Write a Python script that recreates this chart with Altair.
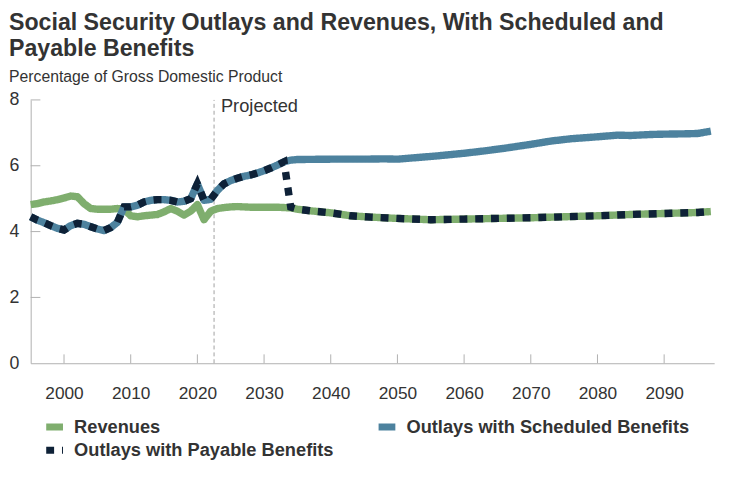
import altair as alt
import pandas as pd

# ---- data (percentage of GDP) ----
rev_years = [1995, 1996, 1997, 1998, 1999, 2000, 2001, 2002, 2003, 2004, 2005, 2006, 2007, 2008,
             2009, 2010, 2011, 2012, 2013, 2014, 2015, 2016, 2017, 2018, 2019, 2020, 2021, 2022,
             2023, 2024, 2025, 2026, 2027, 2028, 2029, 2030, 2031, 2032, 2033, 2034, 2035, 2037,
             2040, 2043, 2046, 2050, 2055, 2060, 2065, 2070, 2075, 2080, 2085, 2090, 2095, 2097]
rev_values = [4.82, 4.85, 4.90, 4.93, 4.97, 5.02, 5.08, 5.06, 4.85, 4.70, 4.68, 4.68, 4.68, 4.70,
              4.68, 4.48, 4.45, 4.48, 4.50, 4.52, 4.60, 4.70, 4.62, 4.50, 4.62, 4.82, 4.36, 4.62,
              4.70, 4.73, 4.75, 4.76, 4.75, 4.74, 4.74, 4.74, 4.74, 4.74, 4.73, 4.72, 4.68, 4.63,
              4.57, 4.48, 4.44, 4.40, 4.36, 4.38, 4.40, 4.42, 4.45, 4.48, 4.52, 4.55, 4.58, 4.61]

sched_years = [1995, 1996, 1997, 1998, 1999, 2000, 2001, 2002, 2003, 2004, 2005, 2006, 2007, 2008,
               2009, 2010, 2011, 2012, 2013, 2014, 2015, 2016, 2017, 2018, 2019, 2020, 2021, 2022,
               2023, 2024, 2025, 2026, 2027, 2028, 2029, 2030, 2031, 2032, 2033, 2034, 2035, 2040,
               2045, 2048, 2050, 2053, 2056, 2060, 2063, 2066, 2070, 2073, 2076, 2080, 2083, 2085,
               2088, 2090, 2093, 2095, 2097]
sched_values = [4.45, 4.35, 4.27, 4.18, 4.10, 4.05, 4.18, 4.25, 4.22, 4.15, 4.08, 4.03, 4.12, 4.28,
                4.75, 4.75, 4.80, 4.90, 4.95, 4.97, 4.97, 4.95, 4.90, 4.92, 5.00, 5.45, 4.95, 4.98,
                5.25, 5.45, 5.55, 5.62, 5.68, 5.72, 5.78, 5.85, 5.93, 6.02, 6.12, 6.17, 6.19, 6.20,
                6.20, 6.21, 6.20, 6.25, 6.30, 6.38, 6.45, 6.53, 6.65, 6.75, 6.82, 6.88, 6.93, 6.92,
                6.95, 6.96, 6.97, 6.98, 7.05]

pay_years = [1995, 1996, 1997, 1998, 1999, 2000, 2001, 2002, 2003, 2004, 2005, 2006, 2007, 2008,
             2009, 2010, 2011, 2012, 2013, 2014, 2015, 2016, 2017, 2018, 2019, 2020, 2021, 2022,
             2023, 2024, 2025, 2026, 2027, 2028, 2029, 2030, 2031, 2032, 2033, 2034, 2035, 2037,
             2040, 2043, 2046, 2050, 2055, 2060, 2065, 2070, 2075, 2080, 2085, 2090, 2095, 2097]
pay_values = [4.45, 4.35, 4.27, 4.18, 4.10, 4.05, 4.18, 4.25, 4.22, 4.15, 4.08, 4.03, 4.12, 4.28,
              4.75, 4.75, 4.80, 4.90, 4.95, 4.97, 4.97, 4.95, 4.90, 4.92, 5.00, 5.45, 4.95, 4.98,
              5.25, 5.45, 5.55, 5.62, 5.68, 5.72, 5.78, 5.85, 5.93, 6.02, 6.12, 4.74, 4.68, 4.63,
              4.57, 4.48, 4.44, 4.40, 4.36, 4.38, 4.40, 4.42, 4.45, 4.48, 4.52, 4.55, 4.58, 4.61]

series_names = ["Revenues", "Outlays with Scheduled Benefits", "Outlays with Payable Benefits"]
series_colors = ["#7fae6e", "#4d829e", "#0e2137"]
series_dashes = [[1, 0], [1, 0], [8, 8]]

x_tick_years = [2000, 2010, 2020, 2030, 2040, 2050, 2060, 2070, 2080, 2090]
y_tick_values = [0, 2, 4, 6, 8]
projection_start = 2022.5

FONT = "Liberation Sans"
TEXT = "#333333"
AXIS = "#b0b0b0"

rows = []
for name, ys, vs in zip(series_names, [rev_years, sched_years, pay_years],
                        [rev_values, sched_values, pay_values]):
    for y, v in zip(ys, vs):
        rows.append({"series": name, "year": y, "value": v})
df = pd.DataFrame(rows)

xscale = alt.Scale(domain=[1995, 2097.5], nice=False, zero=False)
yscale = alt.Scale(domain=[0, 8], nice=False)

legend = alt.Legend(
    title=None, orient="none", legendX=15, legendY=322, columns=2, direction="horizontal",
    symbolType="M-2,0H2", symbolSize=72.25, symbolStrokeWidth=7,
    labelFont=FONT, labelFontSize=18.5, labelFontWeight="bold", labelColor=TEXT,
    labelOffset=10.5, columnPadding=30, rowPadding=-6, labelLimit=400,
)
color = alt.Color("series:N", scale=alt.Scale(domain=series_names, range=series_colors), legend=legend)
dash = alt.StrokeDash("series:N", scale=alt.Scale(domain=series_names, range=series_dashes), legend=legend)

x_enc = alt.X("year:Q", scale=xscale,
              axis=alt.Axis(values=x_tick_years, format="d", title=None, ticks=False, grid=False,
                            domainColor=AXIS, labelFont=FONT, labelFontSize=17.5, labelColor=TEXT,
                            labelPadding=22))
y_enc = alt.Y("value:Q", scale=yscale,
              axis=alt.Axis(values=y_tick_values, title=None, ticks=False, grid=False,
                            domainColor=AXIS, labelFont=FONT, labelFontSize=18, labelColor=TEXT,
                            labelPadding=12))

base = alt.Chart(df)
lines = []
for name in series_names:
    dotted = name == "Outlays with Payable Benefits"
    lines.append(
        base.transform_filter(alt.datum.series == name)
        .mark_line(strokeWidth=7.5, strokeCap="butt", strokeJoin="miter" if dotted else "round")
        .encode(x=x_enc, y=y_enc, color=color, strokeDash=dash)
    )

xt = pd.DataFrame({"year": x_tick_years, "y0": [0] * len(x_tick_years), "y1": [0.27] * len(x_tick_years)})
x_ticks = alt.Chart(xt).mark_rule(color=AXIS, strokeWidth=1).encode(
    x=alt.X("year:Q", scale=xscale), y=alt.Y("y0:Q", scale=yscale), y2="y1:Q")

yt = pd.DataFrame({"v": y_tick_values[1:], "x0": [1995] * 4, "x1": [1996.45] * 4})
y_ticks = alt.Chart(yt).mark_rule(color=AXIS, strokeWidth=1).encode(
    y=alt.Y("v:Q", scale=yscale), x=alt.X("x0:Q", scale=xscale), x2="x1:Q")

proj = pd.DataFrame({"year": [projection_start], "y0": [0], "y1": [8], "label": ["Projected"]})
proj_rule = alt.Chart(proj).mark_rule(color="#a0a0a0", strokeDash=[4, 3], strokeWidth=1).encode(
    x=alt.X("year:Q", scale=xscale), y=alt.Y("y0:Q", scale=yscale), y2="y1:Q")
proj_text = alt.Chart(proj).mark_text(align="left", baseline="top", dx=7, dy=-3, font=FONT,
                                      fontSize=18.5, color=TEXT).encode(
    x=alt.X("year:Q", scale=xscale), y=alt.Y("y1:Q", scale=yscale), text="label:N")

chart = alt.layer(x_ticks, y_ticks, proj_rule, proj_text, *lines).properties(
    width=693, height=267,
    padding={"left": 0, "top": 0, "right": 0, "bottom": 0},
    title=alt.TitleParams(
        text=["Social Security Outlays and Revenues, With Scheduled and", "Payable Benefits"],
        subtitle="Percentage of Gross Domestic Product",
        anchor="start", font=FONT, fontSize=23.5, fontWeight="bold", color=TEXT, lineHeight=26,
        subtitleFont=FONT, subtitleFontSize=16, subtitleColor=TEXT, subtitlePadding=9, offset=6,
    ),
).configure_view(stroke=None).configure_legend(padding=0)

chart.save("out.html", embed_options={"renderer": "svg", "actions": False})
